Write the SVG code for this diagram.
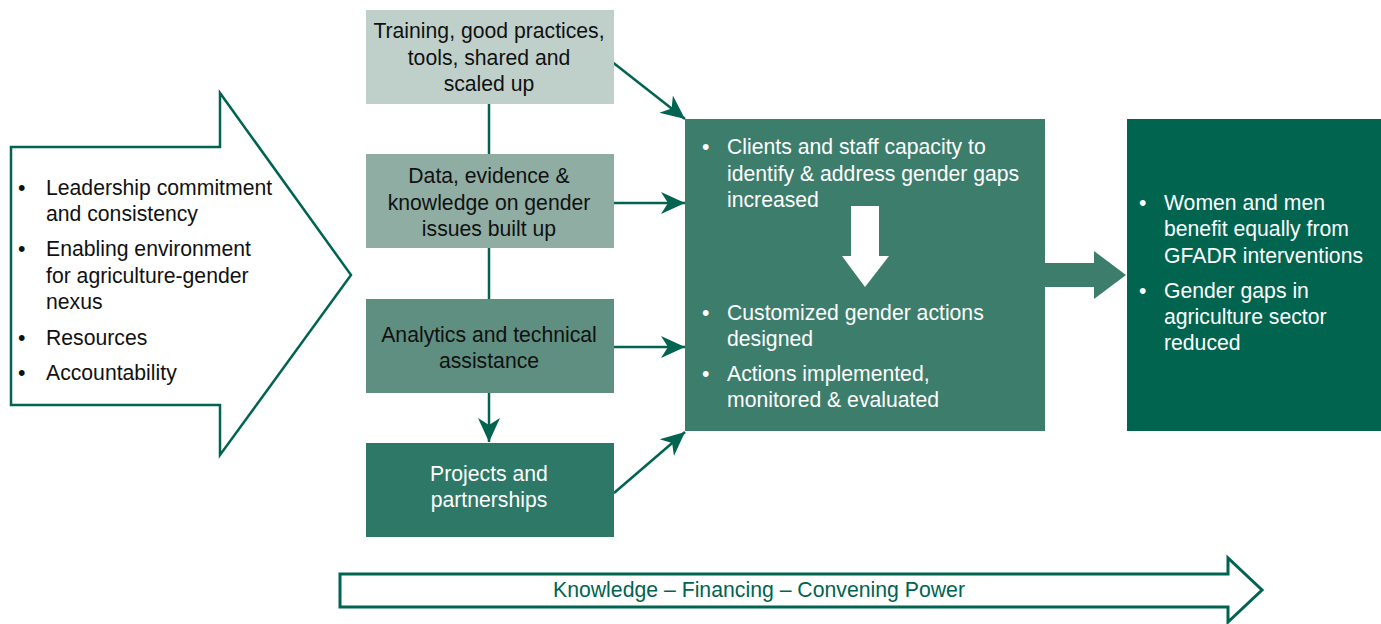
<svg xmlns="http://www.w3.org/2000/svg" width="1381" height="624" viewBox="0 0 1381 624">
<style>
text{font-family:"Liberation Sans",Arial,Helvetica,sans-serif;font-size:21.2px}
.dk{fill:#111}
.wt{fill:#fff}
.c{text-anchor:middle}
.conn{stroke:#006450;stroke-width:2.5;fill:none}
.outline{fill:#fff;stroke:#006450;stroke-width:2.5}
</style>
<defs>
<marker id="ah" viewBox="-24 -12 24 24" markerWidth="24" markerHeight="24" refX="0" refY="0" orient="auto" markerUnits="userSpaceOnUse">
<path d="M0,0 L-24,-11 L-17,0 L-24,11 Z" fill="#006450"/>
</marker>
</defs>
<rect width="1381" height="624" fill="#fff"/>

<g id="enablers">
<polygon class="outline" points="11,147 220,147 220,93 351,275 220,455 220,405 11,405"/>
<text class="dk" x="18" y="195">•</text><text class="dk" x="46" y="195">Leadership commitment</text>
<text class="dk" x="46" y="221">and consistency</text>
<text class="dk" x="18" y="256">•</text><text class="dk" x="46" y="256">Enabling environment</text>
<text class="dk" x="46" y="283">for agriculture-gender</text>
<text class="dk" x="46" y="309">nexus</text>
<text class="dk" x="18" y="345">•</text><text class="dk" x="46" y="345">Resources</text>
<text class="dk" x="18" y="380">•</text><text class="dk" x="46" y="380">Accountability</text>
</g>

<g id="connectors">
<line class="conn" x1="489" y1="104" x2="489" y2="154"/>
<line class="conn" x1="489" y1="248" x2="489" y2="299"/>
<line class="conn" x1="489" y1="393" x2="489" y2="442" marker-end="url(#ah)"/>
<line class="conn" x1="611" y1="61" x2="685" y2="119" marker-end="url(#ah)"/>
<line class="conn" x1="614" y1="203" x2="685" y2="203" marker-end="url(#ah)"/>
<line class="conn" x1="614" y1="347" x2="685" y2="347" marker-end="url(#ah)"/>
<line class="conn" x1="614" y1="493" x2="685" y2="432" marker-end="url(#ah)"/>
</g>

<g id="training">
<rect x="366" y="10" width="248" height="94" fill="#bfd0ca"/>
<text class="dk c" x="489" y="38">Training, good practices,</text>
<text class="dk c" x="489" y="65">tools, shared and</text>
<text class="dk c" x="489" y="91">scaled up</text>
</g>

<g id="data">
<rect x="366" y="154" width="248" height="94" fill="#8fada3"/>
<text class="dk c" x="489" y="183">Data, evidence &amp;</text>
<text class="dk c" x="489" y="210">knowledge on gender</text>
<text class="dk c" x="489" y="236">issues built up</text>
</g>

<g id="analytics">
<rect x="366" y="299" width="248" height="94" fill="#5f8f80"/>
<text class="dk c" x="489" y="342">Analytics and technical</text>
<text class="dk c" x="489" y="368">assistance</text>
</g>

<g id="projects">
<rect x="366" y="443" width="248" height="94" fill="#2d7866"/>
<text class="wt c" x="489" y="481">Projects and</text>
<text class="wt c" x="489" y="507">partnerships</text>
</g>

<g id="outcomes">
<rect x="685" y="119" width="360" height="312" fill="#3d7d6c"/>
<text class="wt" x="702" y="154">•</text><text class="wt" x="727" y="154">Clients and staff capacity to</text>
<text class="wt" x="727" y="181">identify &amp; address gender gaps</text>
<text class="wt" x="727" y="207">increased</text>
<polygon fill="#fff" points="851,206 879,206 879,256 889,256 865,287 842,256 851,256"/>
<text class="wt" x="702" y="320">•</text><text class="wt" x="727" y="320">Customized gender actions</text>
<text class="wt" x="727" y="346">designed</text>
<text class="wt" x="702" y="381">•</text><text class="wt" x="727" y="381">Actions implemented,</text>
<text class="wt" x="727" y="407">monitored &amp; evaluated</text>
</g>

<g id="link-arrow">
<polygon fill="#3d7d6c" points="1045,263 1094,263 1094,251 1126,275 1094,299 1094,287 1045,287"/>
</g>

<g id="impact">
<rect x="1127" y="119" width="254" height="312" fill="#00644f"/>
<text class="wt" x="1139" y="210">•</text><text class="wt" x="1164" y="210">Women and men</text>
<text class="wt" x="1164" y="236">benefit equally from</text>
<text class="wt" x="1164" y="263">GFADR interventions</text>
<text class="wt" x="1139" y="298">•</text><text class="wt" x="1164" y="298">Gender gaps in</text>
<text class="wt" x="1164" y="324">agriculture sector</text>
<text class="wt" x="1164" y="350">reduced</text>
</g>

<g id="power">
<polygon fill="#fff" stroke="#006450" stroke-width="3" points="340,574 1228,574 1228,558 1262,590 1228,622 1228,607 340,607"/>
<text class="c" x="759" y="597" fill="#00644f" font-size="20" textLength="412" lengthAdjust="spacingAndGlyphs">Knowledge – Financing – Convening Power</text>
</g>
</svg>
